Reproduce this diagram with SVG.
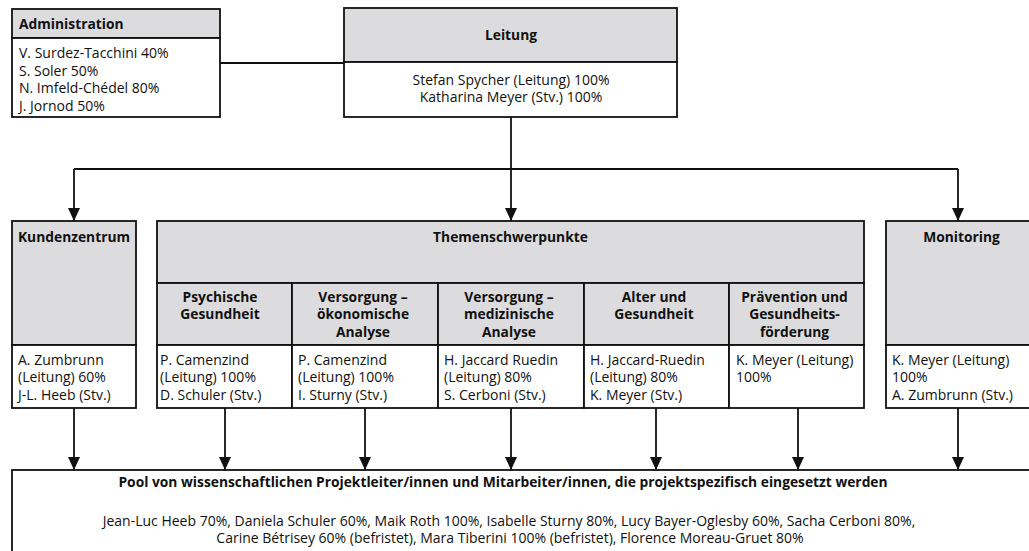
<svg xmlns="http://www.w3.org/2000/svg" width="1029" height="551" viewBox="0 0 1029 551">
<style>
text{font-family:"Open Sans","Liberation Sans",sans-serif;font-size:14px;fill:#111}
.b{font-weight:bold;font-size:13.8px}
.c{text-anchor:middle}
.hd{fill:#dcdcde;stroke:#111;stroke-width:1.8}
.bx{fill:#fff;stroke:#111;stroke-width:1.8}
.ln{fill:none;stroke:#111;stroke-width:1.8}
</style>
<defs>
<marker id="ar" markerUnits="userSpaceOnUse" markerWidth="14" markerHeight="14" refX="13" refY="6.5" orient="auto" viewBox="0 0 14 14">
<path d="M0,0.5 L13,6.5 L0,12.5 Z" fill="#111"/>
</marker>
</defs>
<g id="connectors">
<path class="ln" d="M220,63 H344"/>
<path class="ln" d="M511,117 V169"/>
<path class="ln" d="M74,169 H958"/>
<path class="ln" d="M74,169 V221" marker-end="url(#ar)"/>
<path class="ln" d="M511,169 V221" marker-end="url(#ar)"/>
<path class="ln" d="M958,169 V221" marker-end="url(#ar)"/>
<path class="ln" d="M74,408 V470" marker-end="url(#ar)"/>
<path class="ln" d="M225,408 V470" marker-end="url(#ar)"/>
<path class="ln" d="M365,408 V470" marker-end="url(#ar)"/>
<path class="ln" d="M511,408 V470" marker-end="url(#ar)"/>
<path class="ln" d="M656,408 V470" marker-end="url(#ar)"/>
<path class="ln" d="M798,408 V470" marker-end="url(#ar)"/>
<path class="ln" d="M958,408 V470" marker-end="url(#ar)"/>
</g>
<g id="administration">
<rect class="hd" x="12" y="9" width="208" height="29"/>
<rect class="bx" x="12" y="38" width="208" height="79"/>
<text class="b" x="19" y="29">Administration</text>
<text x="19" y="58">V. Surdez-Tacchini 40%</text>
<text x="19" y="75.5">S. Soler 50%</text>
<text x="19" y="93">N. Imfeld-Chédel 80%</text>
<text x="19" y="110.5">J. Jornod 50%</text>
</g>
<g id="leitung">
<rect class="hd" x="344" y="8" width="333" height="54"/>
<rect class="bx" x="344" y="62" width="333" height="55"/>
<text class="b c" x="511" y="39.5">Leitung</text>
<text class="c" x="511" y="84.5">Stefan Spycher (Leitung) 100%</text>
<text class="c" x="511" y="101.5">Katharina Meyer (Stv.) 100%</text>
</g>
<g id="kundenzentrum">
<rect class="hd" x="12" y="221" width="124" height="124"/>
<rect class="bx" x="12" y="345" width="124" height="63"/>
<text class="b c" x="74" y="241.5">Kundenzentrum</text>
<text x="18" y="364.5">A. Zumbrunn</text>
<text x="18" y="382">(Leitung) 60%</text>
<text x="18" y="399.5">J-L. Heeb (Stv.)</text>
</g>
<g id="themenschwerpunkte">
<rect class="hd" x="157" y="221" width="707" height="62"/>
<text class="b c" x="510.5" y="241.5">Themenschwerpunkte</text>
</g>
<g id="psychische-gesundheit">
<rect class="hd" x="157" y="283" width="135" height="62"/>
<rect class="bx" x="157" y="345" width="135" height="63"/>
<text class="b c" x="220" y="301.5">Psychische</text>
<text class="b c" x="220" y="319">Gesundheit</text>
<text x="160" y="364.5">P. Camenzind</text>
<text x="160" y="382">(Leitung) 100%</text>
<text x="160" y="399.5">D. Schuler (Stv.)</text>
</g>
<g id="versorgung-oekonomisch">
<rect class="hd" x="292" y="283" width="146" height="62"/>
<rect class="bx" x="292" y="345" width="146" height="63"/>
<text class="b c" x="363" y="301.5">Versorgung –</text>
<text class="b c" x="363" y="319">ökonomische</text>
<text class="b c" x="363" y="336.5">Analyse</text>
<text x="298" y="364.5">P. Camenzind</text>
<text x="298" y="382">(Leitung) 100%</text>
<text x="298" y="399.5">I. Sturny (Stv.)</text>
</g>
<g id="versorgung-medizinisch">
<rect class="hd" x="438" y="283" width="146" height="62"/>
<rect class="bx" x="438" y="345" width="146" height="63"/>
<text class="b c" x="509" y="301.5">Versorgung –</text>
<text class="b c" x="509" y="319">medizinische</text>
<text class="b c" x="509" y="336.5">Analyse</text>
<text x="444" y="364.5">H. Jaccard Ruedin</text>
<text x="444" y="382">(Leitung) 80%</text>
<text x="444" y="399.5">S. Cerboni (Stv.)</text>
</g>
<g id="alter-gesundheit">
<rect class="hd" x="584" y="283" width="145" height="62"/>
<rect class="bx" x="584" y="345" width="145" height="63"/>
<text class="b c" x="654" y="301.5">Alter und</text>
<text class="b c" x="654" y="319">Gesundheit</text>
<text x="590" y="364.5">H. Jaccard-Ruedin</text>
<text x="590" y="382">(Leitung) 80%</text>
<text x="590" y="399.5">K. Meyer (Stv.)</text>
</g>
<g id="praevention">
<rect class="hd" x="729" y="283" width="135" height="62"/>
<rect class="bx" x="729" y="345" width="135" height="63"/>
<text class="b c" x="794.5" y="301.5">Prävention und</text>
<text class="b c" x="794.5" y="319">Gesundheits-</text>
<text class="b c" x="794.5" y="336.5">förderung</text>
<text x="736" y="364.5">K. Meyer (Leitung)</text>
<text x="736" y="382">100%</text>
</g>
<g id="monitoring">
<rect class="hd" x="886" y="221" width="151" height="124"/>
<rect class="bx" x="886" y="345" width="151" height="63"/>
<text class="b c" x="961.5" y="241.5">Monitoring</text>
<text x="892" y="364.5">K. Meyer (Leitung)</text>
<text x="892" y="382">100%</text>
<text x="892" y="399.5">A. Zumbrunn (Stv.)</text>
</g>
<g id="pool">
<rect class="bx" x="12" y="470" width="1030" height="90"/>
<text class="b c" x="503" y="486.5">Pool von wissenschaftlichen Projektleiter/innen und Mitarbeiter/innen, die projektspezifisch eingesetzt werden</text>
<text class="c" x="509" y="525.5">Jean-Luc Heeb 70%, Daniela Schuler 60%, Maik Roth 100%, Isabelle Sturny 80%, Lucy Bayer-Oglesby 60%, Sacha Cerboni 80%,</text>
<text class="c" x="510" y="542.5">Carine Bétrisey 60% (befristet), Mara Tiberini 100% (befristet), Florence Moreau-Gruet 80%</text>
</g>
</svg>
